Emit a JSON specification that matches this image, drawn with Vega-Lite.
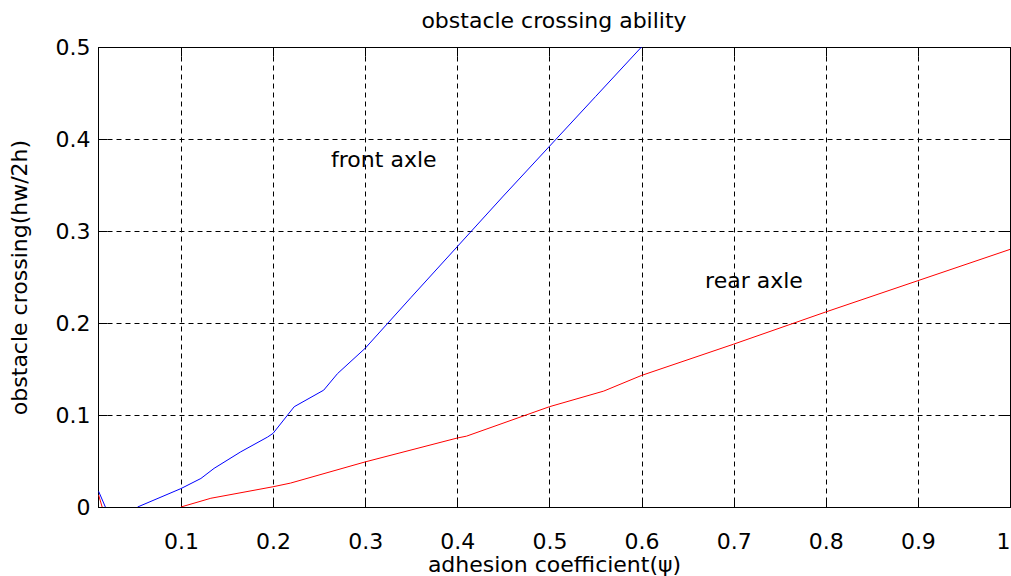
{
  "$schema": "https://vega.github.io/schema/vega-lite/v6.json",
  "width": 912,
  "height": 460,
  "autosize": {"type": "none"},
  "padding": {"left": 98, "top": 47, "right": 1, "bottom": 69},
  "background": "white",
  "config": {
    "font": "DejaVu Sans",
    "view": {"stroke": "black", "strokeWidth": 1},
    "axis": {
      "domainColor": "black",
      "tickColor": "black",
      "labelColor": "black",
      "titleColor": "black",
      "labelFont": "DejaVu Sans",
      "titleFont": "DejaVu Sans",
      "labelFontSize": 22,
      "titleFontSize": 22,
      "titleFontWeight": "normal"
    }
  },
  "title": {
    "text": "obstacle crossing ability",
    "font": "DejaVu Sans",
    "fontSize": 22,
    "fontWeight": "normal",
    "color": "black",
    "offset": 3,
    "anchor": "middle"
  },
  "datasets": {
    "curves": [
      {"x": 0.0107, "y": 0.017, "axle": "front", "part": "f1"},
      {"x": 0.018, "y": 0.0, "axle": "front", "part": "f1"},
      {"x": 0.053, "y": 0.0, "axle": "front", "part": "f2"},
      {"x": 0.1, "y": 0.020, "axle": "front", "part": "f2"},
      {"x": 0.1217, "y": 0.031, "axle": "front", "part": "f2"},
      {"x": 0.136, "y": 0.042, "axle": "front", "part": "f2"},
      {"x": 0.165, "y": 0.06, "axle": "front", "part": "f2"},
      {"x": 0.194, "y": 0.076, "axle": "front", "part": "f2"},
      {"x": 0.2, "y": 0.08, "axle": "front", "part": "f2"},
      {"x": 0.223, "y": 0.109, "axle": "front", "part": "f2"},
      {"x": 0.255, "y": 0.127, "axle": "front", "part": "f2"},
      {"x": 0.27, "y": 0.145, "axle": "front", "part": "f2"},
      {"x": 0.3, "y": 0.1725, "axle": "front", "part": "f2"},
      {"x": 0.35, "y": 0.228, "axle": "front", "part": "f2"},
      {"x": 0.4, "y": 0.283, "axle": "front", "part": "f2"},
      {"x": 0.45, "y": 0.338, "axle": "front", "part": "f2"},
      {"x": 0.5, "y": 0.392, "axle": "front", "part": "f2"},
      {"x": 0.55, "y": 0.446, "axle": "front", "part": "f2"},
      {"x": 0.6, "y": 0.5, "axle": "front", "part": "f2"},
      {"x": 0.0107, "y": 0.013, "axle": "rear", "part": "r1"},
      {"x": 0.0145, "y": 0.0, "axle": "rear", "part": "r1"},
      {"x": 0.1, "y": 0.0, "axle": "rear", "part": "r2"},
      {"x": 0.1325, "y": 0.0095, "axle": "rear", "part": "r2"},
      {"x": 0.2, "y": 0.022, "axle": "rear", "part": "r2"},
      {"x": 0.219, "y": 0.026, "axle": "rear", "part": "r2"},
      {"x": 0.3, "y": 0.049, "axle": "rear", "part": "r2"},
      {"x": 0.4, "y": 0.075, "axle": "rear", "part": "r2"},
      {"x": 0.41, "y": 0.077, "axle": "rear", "part": "r2"},
      {"x": 0.5, "y": 0.109, "axle": "rear", "part": "r2"},
      {"x": 0.559, "y": 0.126, "axle": "rear", "part": "r2"},
      {"x": 0.6, "y": 0.143, "axle": "rear", "part": "r2"},
      {"x": 0.7, "y": 0.177, "axle": "rear", "part": "r2"},
      {"x": 0.8, "y": 0.212, "axle": "rear", "part": "r2"},
      {"x": 0.9, "y": 0.246, "axle": "rear", "part": "r2"},
      {"x": 1.0, "y": 0.28, "axle": "rear", "part": "r2"}
    ],
    "labels": [
      {"x": 0.263, "y": 0.377, "text": "front axle"},
      {"x": 0.669, "y": 0.246, "text": "rear axle"}
    ]
  },
  "layer": [
    {
      "data": {"name": "curves"},
      "mark": {"type": "line", "strokeWidth": 1, "clip": true},
      "encoding": {
        "x": {
          "field": "x", "type": "quantitative",
          "scale": {"domain": [0.01, 1], "nice": false, "zero": false},
          "axis": {
            "values": [0.1, 0.2, 0.3, 0.4, 0.5, 0.6, 0.7, 0.8, 0.9, 1],
            "format": ".1~f",
            "title": "adhesion coefficient(ψ)",
            "grid": true, "gridColor": "black", "gridDash": [5, 4], "gridOpacity": 1,
            "tickSize": -9, "labelPadding": 33, "titlePadding": 2
          }
        },
        "y": {
          "field": "y", "type": "quantitative",
          "scale": {"domain": [0, 0.5], "nice": false},
          "axis": {
            "values": [0, 0.1, 0.2, 0.3, 0.4, 0.5],
            "format": ".1~f",
            "title": "obstacle crossing(hw/2h)",
            "grid": true, "gridColor": "black", "gridDash": [5, 4], "gridOpacity": 1,
            "tickSize": -9, "labelPadding": 17, "titlePadding": 24
          }
        },
        "color": {
          "field": "axle", "type": "nominal",
          "scale": {"domain": ["front", "rear"], "range": ["#0000ff", "#ff0000"]},
          "legend": null
        },
        "detail": {"field": "part"}
      }
    },
    {
      "data": {"name": "labels"},
      "mark": {"type": "text", "align": "left", "baseline": "middle", "fontSize": 22, "font": "DejaVu Sans", "color": "black"},
      "encoding": {
        "x": {"field": "x", "type": "quantitative", "scale": {"domain": [0.01, 1], "nice": false, "zero": false},
          "axis": {"orient": "top", "values": [0.1, 0.2, 0.3, 0.4, 0.5, 0.6, 0.7, 0.8, 0.9, 1], "labels": false, "title": null, "grid": false, "tickSize": -9, "domain": false}},
        "y": {"field": "y", "type": "quantitative", "scale": {"domain": [0, 0.5], "nice": false},
          "axis": {"orient": "right", "values": [0, 0.1, 0.2, 0.3, 0.4, 0.5], "labels": false, "title": null, "grid": false, "tickSize": -9, "domain": false}},
        "text": {"field": "text"}
      }
    }
  ],
  "resolve": {"axis": {"x": "independent", "y": "independent"}}
}
